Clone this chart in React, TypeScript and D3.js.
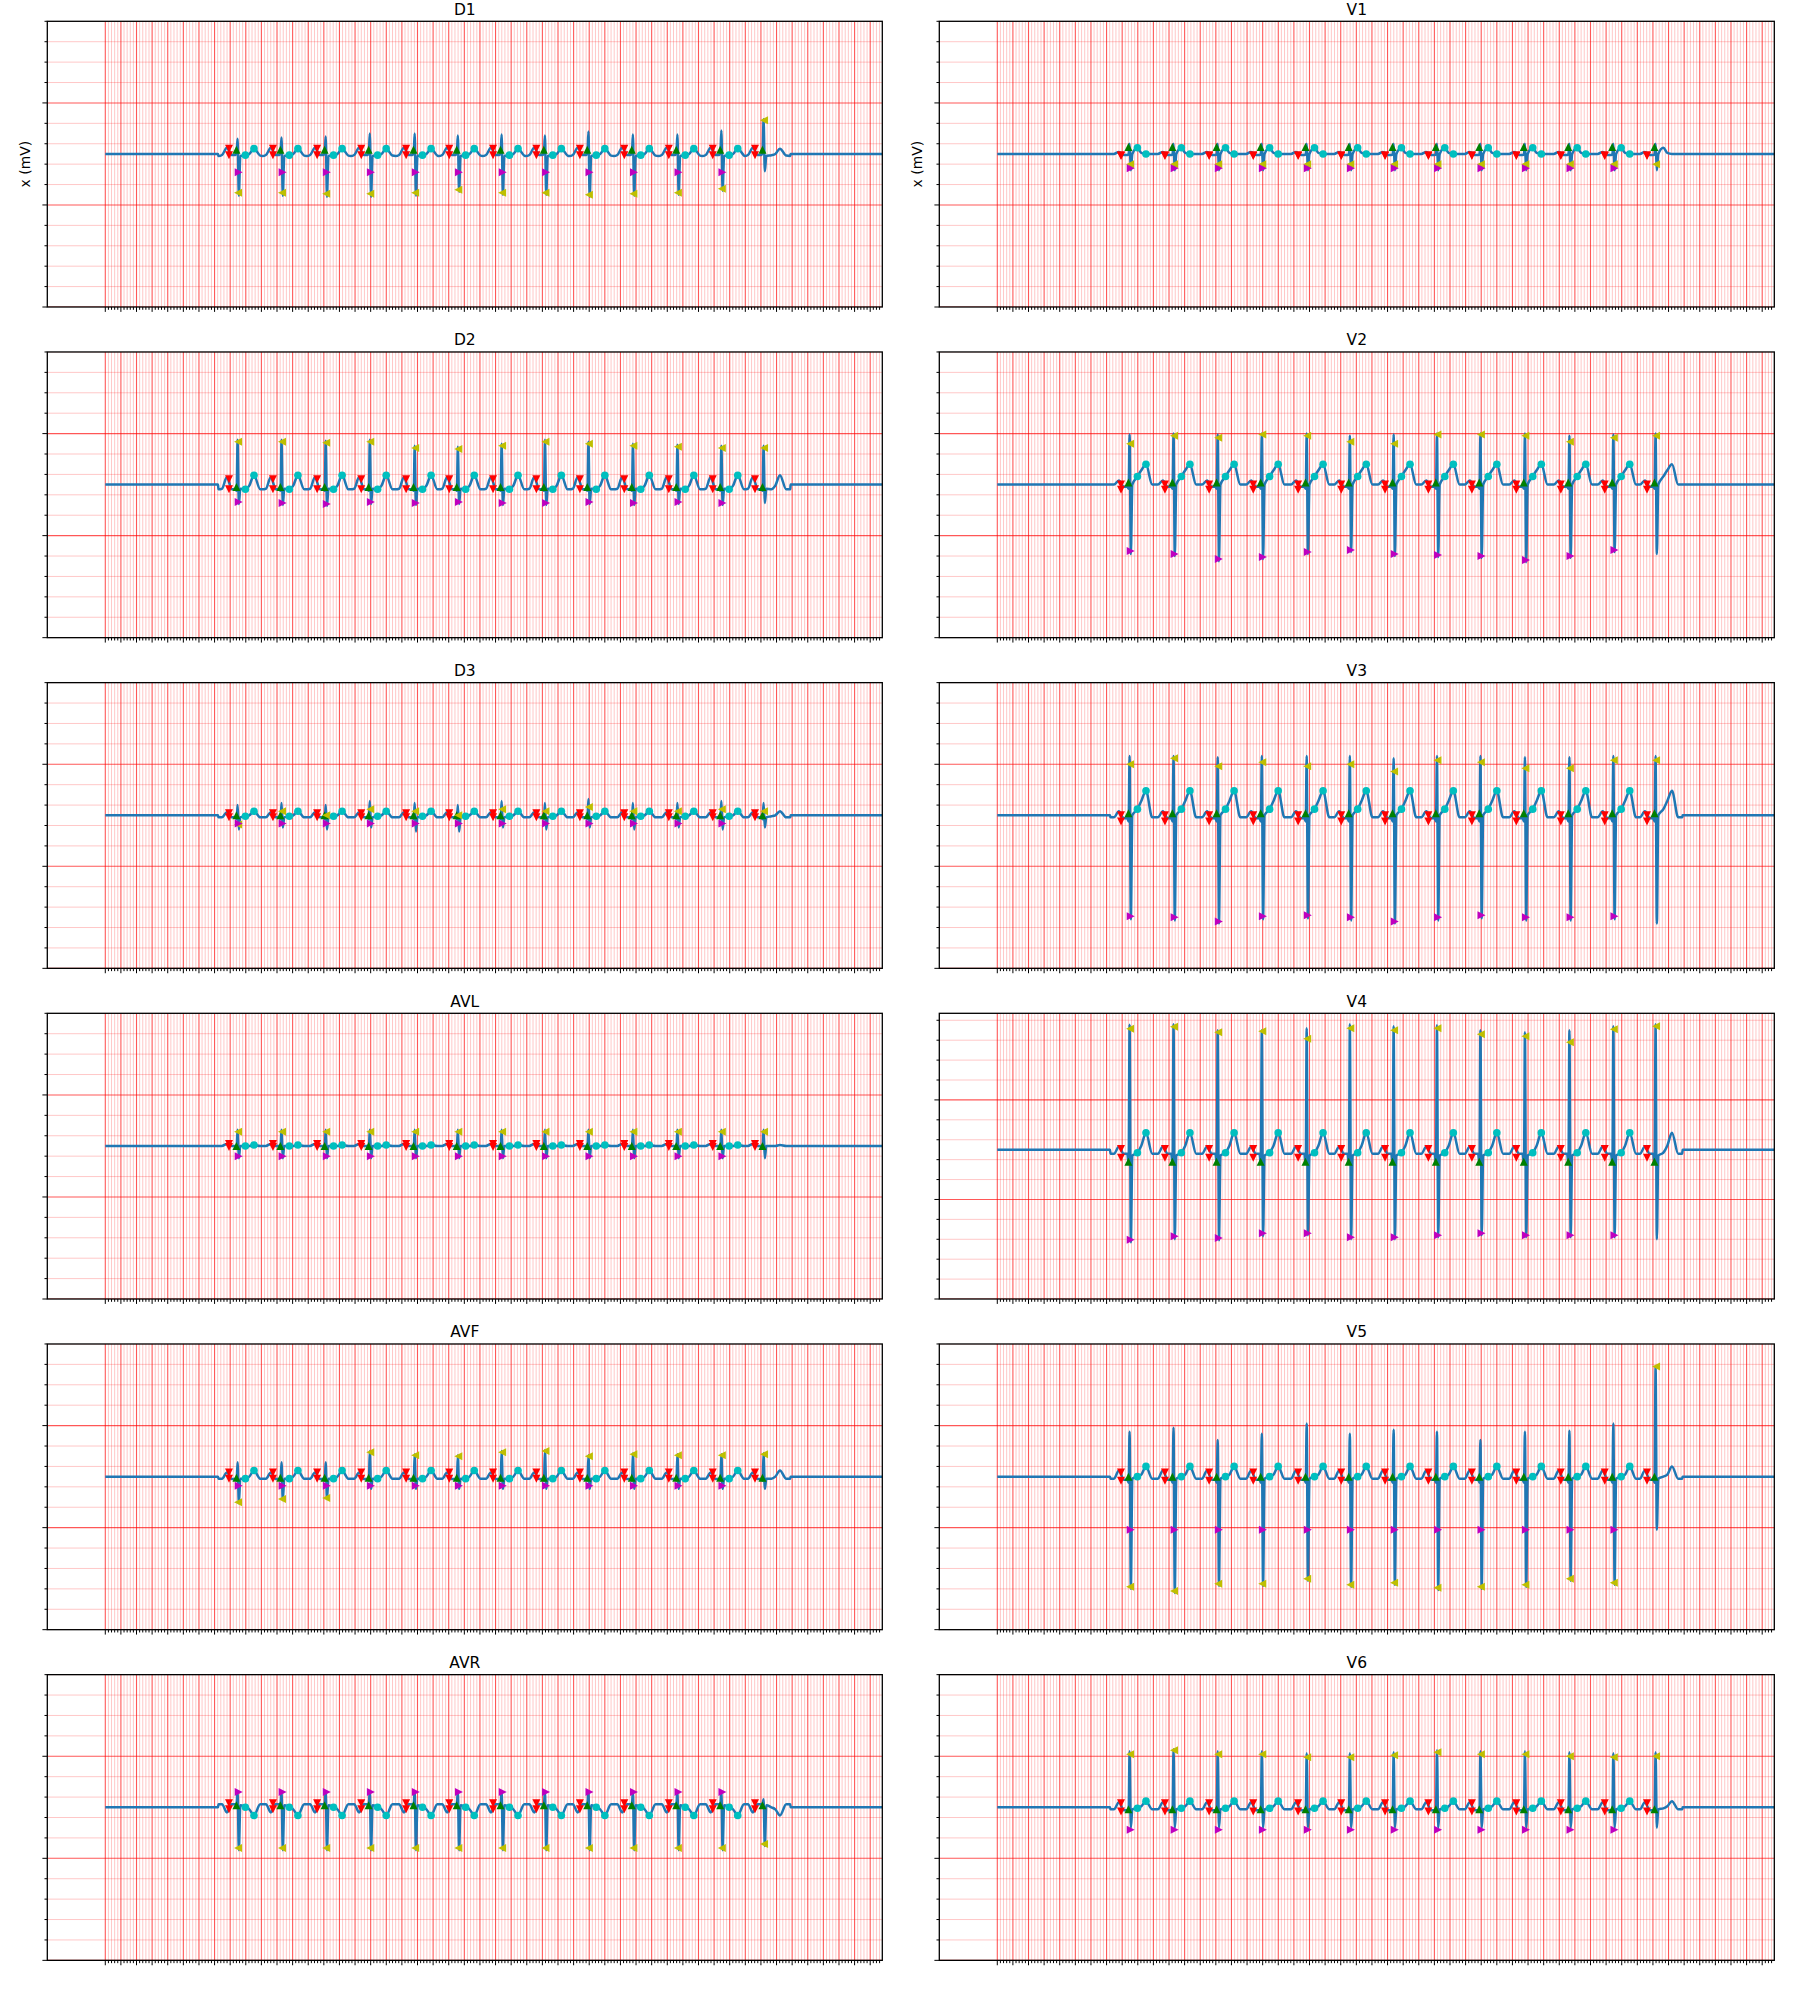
import React from "react";
import * as d3 from "d3";

// ---------- layout ----------
const FIG_W = 1800;
const FIG_H = 2000;
const COL_X = [47.3, 939.3];
const AX_W = 835;
const ROW_Y0 = 21.3;
const ROW_DY = 330.67;
const AX_H = 285.7;

// ---------- axes / grid ----------
const X_LIM: [number, number] = [-0.743, 9.955];
const Y_LIM: [number, number] = [-0.75, 0.65];
const Y_LIM_V4: [number, number] = [-0.75, 0.685];
const X_MINOR_STEP = 0.04; // s
const X_MAJOR_EVERY = 5;
const Y_MINOR_STEP = 0.1; // mV
const Y_MAJOR_EVERY = 5;

const LEADS_LEFT = ["D1", "D2", "D3", "AVL", "AVF", "AVR"];
const LEADS_RIGHT = ["V1", "V2", "V3", "V4", "V5", "V6"];

// ---------- data ----------
const BEAT_T = [1.695, 2.258, 2.824, 3.389, 3.964, 4.517, 5.078, 5.633, 6.19, 6.76, 7.33, 7.893, 8.434];
const SNIP = [1.448, 8.776];
// beat template time offsets (s) relative to R: base, Pstart, P, PR, Qstart, Q, R, S, J, ST, Tstart, T, Tend
const TPL_DT = [-0.245, -0.2, -0.137, -0.075, -0.03, -0.012, 0, 0.016, 0.035, 0.1, 0.15, 0.21, 0.29];
const R_IDX = 6;
const S_IDX = 7;
const ST_IDX = 9;
const T_IDX = 11;
const RED_DT = -0.11;
const GREEN_DT = -0.015;
const YEL_DT = 0.006;
const MAG_DT = 0.014;

const WAVE_D1 = [-0.01, -0.005, 0.03, -0.005, -0.005, 0.01, 0, 0, -0.01, -0.006, 0.0, 0.026, -0.008];
const R_D1 = [0.075, 0.08, 0.085, 0.1, 0.1, 0.09, 0.095, 0.09, 0.11, 0.095, 0.095, 0.115, 0.17];
const S_D1 = [-0.205, -0.205, -0.21, -0.21, -0.205, -0.185, -0.2, -0.2, -0.21, -0.205, -0.2, -0.18, -0.085];
const YEL_D1 = [-0.19, -0.19, -0.195, -0.195, -0.19, -0.175, -0.19, -0.19, -0.2, -0.195, -0.19, -0.17, 0.165];
const MAG_D1 = [-0.09, -0.09, -0.09, -0.09, -0.09, -0.09, -0.09, -0.09, -0.09, -0.09, -0.09, -0.09, null];
const MARK_D1 = [0.026, -0.006, 0.02];

const WAVE_D2 = [-0.023, -0.02, 0.037, -0.023, -0.023, -0.03, 0, 0, -0.02, -0.023, -0.005, 0.046, -0.023];
const R_D2 = [0.22, 0.22, 0.215, 0.22, 0.19, 0.185, 0.2, 0.22, 0.21, 0.2, 0.195, 0.19, 0.19];
const S_D2 = [-0.095, -0.1, -0.105, -0.095, -0.1, -0.095, -0.1, -0.1, -0.095, -0.1, -0.095, -0.1, -0.09];
const YEL_D2 = [0.21, 0.21, 0.205, 0.21, 0.18, 0.175, 0.19, 0.21, 0.2, 0.19, 0.185, 0.18, 0.18];
const MAG_D2 = [-0.085, -0.09, -0.095, -0.085, -0.09, -0.085, -0.09, -0.09, -0.085, -0.09, -0.085, -0.09, null];
const MARK_D2 = [0.026, -0.023, -0.012];

const WAVE_D3 = [-0.01, -0.01, 0.015, -0.01, -0.01, -0.02, 0, 0, -0.01, -0.005, 0.0, 0.02, -0.01];
const R_D3 = [0.05, 0.06, 0.05, 0.07, 0.06, 0.05, 0.07, 0.06, 0.08, 0.06, 0.06, 0.07, 0.06];
const S_D3 = [-0.07, -0.06, -0.07, -0.06, -0.08, -0.08, -0.06, -0.07, -0.06, -0.07, -0.06, -0.07, -0.06];
const YEL_D3 = [-0.045, 0.02, 0.0, 0.03, 0.02, 0.0, 0.03, 0.02, 0.04, 0.02, 0.02, 0.03, 0.02];
const MAG_D3 = [-0.04, -0.04, -0.04, -0.04, -0.04, -0.04, -0.04, -0.04, -0.04, -0.04, -0.04, -0.04, null];
const MARK_D3 = [0.01, -0.01, 0.0];

const WAVE_AVL = [0.0, 0.0, 0.01, 0.0, 0.0, -0.005, 0, 0, 0.0, 0.0, 0.0, 0.005, 0.0];
const R_AVL = [0.08, 0.08, 0.08, 0.08, 0.08, 0.08, 0.08, 0.08, 0.08, 0.08, 0.08, 0.08, 0.08];
const S_AVL = [-0.06, -0.06, -0.06, -0.06, -0.06, -0.06, -0.06, -0.06, -0.06, -0.06, -0.06, -0.06, -0.06];
const YEL_AVL = [0.07, 0.07, 0.07, 0.07, 0.07, 0.07, 0.07, 0.07, 0.07, 0.07, 0.07, 0.07, 0.07];
const MAG_AVL = [-0.05, -0.05, -0.05, -0.05, -0.05, -0.05, -0.05, -0.05, -0.05, -0.05, -0.05, -0.05, null];
const MARK_AVL = [0.01, -0.005, 0.0];

const WAVE_AVF = [-0.01, -0.01, 0.02, -0.012, -0.012, -0.02, 0, 0, -0.01, -0.01, 0.0, 0.03, -0.01];
const R_AVF = [0.07, 0.07, 0.07, 0.125, 0.11, 0.105, 0.125, 0.13, 0.105, 0.115, 0.11, 0.11, 0.115];
const S_AVF = [-0.13, -0.115, -0.11, -0.06, -0.06, -0.06, -0.06, -0.06, -0.06, -0.06, -0.06, -0.06, -0.06];
const YEL_AVF = [-0.125, -0.11, -0.105, 0.12, 0.105, 0.1, 0.12, 0.125, 0.1, 0.11, 0.105, 0.105, 0.11];
const MAG_AVF = [-0.045, -0.045, -0.045, -0.045, -0.045, -0.045, -0.045, -0.045, -0.045, -0.045, -0.045, -0.045, null];
const MARK_AVF = [0.02, -0.01, -0.005];

const WAVE_AVR = [0.015, 0.015, -0.025, 0.015, 0.015, 0.02, 0, 0, 0.01, 0.0, -0.01, -0.04, 0.015];
const R_AVR = [0.08, 0.08, 0.08, 0.08, 0.08, 0.08, 0.08, 0.08, 0.08, 0.08, 0.08, 0.08, 0.04];
const S_AVR = [-0.21, -0.21, -0.21, -0.21, -0.21, -0.21, -0.21, -0.21, -0.21, -0.21, -0.21, -0.21, -0.19];
const YEL_AVR = [-0.2, -0.2, -0.2, -0.2, -0.2, -0.2, -0.2, -0.2, -0.2, -0.2, -0.2, -0.2, -0.18];
const MAG_AVR = [0.075, 0.075, 0.075, 0.075, 0.075, 0.075, 0.075, 0.075, 0.075, 0.075, 0.075, 0.075, null];
const MARK_AVR = [0.02, -0.01, 0.01];

const WAVE_V1 = [0.0, 0.0, 0.01, -0.005, -0.005, 0.0, 0, 0, 0.0, 0.03, 0.005, 0.0, 0.0];
const R_V1 = [0.05, 0.05, 0.05, 0.05, 0.05, 0.05, 0.05, 0.05, 0.05, 0.05, 0.05, 0.05, 0.05];
const S_V1 = [-0.08, -0.08, -0.08, -0.08, -0.08, -0.08, -0.08, -0.08, -0.08, -0.08, -0.08, -0.08, -0.08];
const YEL_V1 = [-0.05, -0.05, -0.05, -0.05, -0.05, -0.05, -0.05, -0.05, -0.05, -0.05, -0.05, -0.05, -0.05];
const MAG_V1 = [-0.07, -0.07, -0.07, -0.07, -0.07, -0.07, -0.07, -0.07, -0.07, -0.07, -0.07, -0.07, null];
const MARK_V1 = [-0.006, -0.01, 0.034];

const WAVE_V2 = [0.0, 0.0, 0.02, -0.01, -0.01, -0.02, 0, 0, 0.0, 0.04, 0.07, 0.1, 0.0];
const R_V2 = [0.245, 0.25, 0.245, 0.25, 0.25, 0.24, 0.245, 0.25, 0.25, 0.25, 0.24, 0.245, 0.25];
const S_V2 = [-0.34, -0.35, -0.375, -0.365, -0.34, -0.33, -0.35, -0.355, -0.36, -0.38, -0.36, -0.33, -0.34];
const YEL_V2 = [0.2, 0.24, 0.23, 0.245, 0.24, 0.21, 0.2, 0.245, 0.245, 0.24, 0.21, 0.23, 0.24];
const MAG_V2 = [-0.325, -0.34, -0.365, -0.355, -0.33, -0.32, -0.34, -0.345, -0.35, -0.37, -0.35, -0.32, null];
const MARK_V2 = [0.0, -0.025, 0.01];

const WAVE_V3 = [-0.01, -0.01, 0.02, -0.015, -0.015, -0.03, 0, 0, 0.0, 0.03, 0.07, 0.12, -0.01];
const R_V3 = [0.29, 0.29, 0.285, 0.29, 0.29, 0.29, 0.28, 0.29, 0.29, 0.285, 0.285, 0.29, 0.29];
const S_V3 = [-0.51, -0.515, -0.53, -0.51, -0.505, -0.515, -0.53, -0.515, -0.505, -0.515, -0.515, -0.51, -0.53];
const YEL_V3 = [0.25, 0.28, 0.24, 0.26, 0.24, 0.25, 0.215, 0.27, 0.26, 0.23, 0.23, 0.27, 0.27];
const MAG_V3 = [-0.495, -0.5, -0.52, -0.495, -0.49, -0.5, -0.52, -0.5, -0.49, -0.5, -0.5, -0.495, null];
const MARK_V3 = [0.0, -0.03, 0.01];

const WAVE_V4 = [-0.02, -0.02, 0.015, -0.02, -0.02, -0.07, 0, 0, -0.03, -0.015, 0.02, 0.085, -0.02];
const R_V4 = [0.628, 0.63, 0.6, 0.6, 0.61, 0.63, 0.62, 0.625, 0.6, 0.59, 0.6, 0.62, 0.63];
const S_V4 = [-0.465, -0.45, -0.455, -0.435, -0.43, -0.45, -0.45, -0.44, -0.43, -0.44, -0.44, -0.44, -0.45];
const YEL_V4 = [0.608, 0.618, 0.59, 0.595, 0.557, 0.61, 0.6, 0.61, 0.58, 0.57, 0.54, 0.605, 0.62];
const MAG_V4 = [-0.452, -0.435, -0.443, -0.42, -0.42, -0.44, -0.44, -0.43, -0.42, -0.43, -0.43, -0.43, null];
const MARK_V4 = [0.003, -0.04, -0.06];

const WAVE_V5 = [-0.01, -0.01, 0.03, -0.015, -0.015, -0.03, 0, 0, -0.01, 0.0, 0.01, 0.05, -0.01];
const R_V5 = [0.22, 0.24, 0.18, 0.21, 0.26, 0.21, 0.23, 0.22, 0.18, 0.22, 0.225, 0.26, 0.54];
const S_V5 = [-0.55, -0.57, -0.535, -0.535, -0.51, -0.54, -0.53, -0.555, -0.55, -0.54, -0.51, -0.53, -0.26];
const YEL_V5 = [-0.54, -0.56, -0.525, -0.525, -0.5, -0.53, -0.52, -0.545, -0.54, -0.53, -0.5, -0.52, 0.54];
const MAG_V5 = [-0.26, -0.26, -0.26, -0.26, -0.26, -0.26, -0.26, -0.26, -0.26, -0.26, -0.26, -0.26, null];
const MARK_V5 = [0.02, -0.02, 0.0];

const WAVE_V6 = [-0.01, -0.01, 0.025, -0.015, -0.015, -0.02, 0, 0, -0.01, -0.005, 0.005, 0.03, -0.01];
const R_V6 = [0.275, 0.285, 0.275, 0.275, 0.265, 0.265, 0.27, 0.28, 0.275, 0.275, 0.27, 0.265, 0.27];
const S_V6 = [-0.1, -0.1, -0.1, -0.1, -0.1, -0.1, -0.1, -0.1, -0.1, -0.1, -0.1, -0.1, -0.1];
const YEL_V6 = [0.26, 0.28, 0.26, 0.26, 0.245, 0.245, 0.255, 0.27, 0.26, 0.26, 0.25, 0.245, 0.25];
const MAG_V6 = [-0.11, -0.11, -0.11, -0.11, -0.11, -0.11, -0.11, -0.11, -0.11, -0.11, -0.11, -0.11, null];
const MARK_V6 = [0.02, -0.02, -0.01];

type LeadData = {
  wave: number[];
  R: number[];
  S: number[];
  yel: (number | null)[];
  mag: (number | null)[];
  mark: number[];
};

const LEAD_TABLE: Record<string, LeadData> = {
  D1: { wave: WAVE_D1, R: R_D1, S: S_D1, yel: YEL_D1, mag: MAG_D1, mark: MARK_D1 },
  D2: { wave: WAVE_D2, R: R_D2, S: S_D2, yel: YEL_D2, mag: MAG_D2, mark: MARK_D2 },
  D3: { wave: WAVE_D3, R: R_D3, S: S_D3, yel: YEL_D3, mag: MAG_D3, mark: MARK_D3 },
  AVL: { wave: WAVE_AVL, R: R_AVL, S: S_AVL, yel: YEL_AVL, mag: MAG_AVL, mark: MARK_AVL },
  AVF: { wave: WAVE_AVF, R: R_AVF, S: S_AVF, yel: YEL_AVF, mag: MAG_AVF, mark: MARK_AVF },
  AVR: { wave: WAVE_AVR, R: R_AVR, S: S_AVR, yel: YEL_AVR, mag: MAG_AVR, mark: MARK_AVR },
  V1: { wave: WAVE_V1, R: R_V1, S: S_V1, yel: YEL_V1, mag: MAG_V1, mark: MARK_V1 },
  V2: { wave: WAVE_V2, R: R_V2, S: S_V2, yel: YEL_V2, mag: MAG_V2, mark: MARK_V2 },
  V3: { wave: WAVE_V3, R: R_V3, S: S_V3, yel: YEL_V3, mag: MAG_V3, mark: MARK_V3 },
  V4: { wave: WAVE_V4, R: R_V4, S: S_V4, yel: YEL_V4, mag: MAG_V4, mark: MARK_V4 },
  V5: { wave: WAVE_V5, R: R_V5, S: S_V5, yel: YEL_V5, mag: MAG_V5, mark: MARK_V5 },
  V6: { wave: WAVE_V6, R: R_V6, S: S_V6, yel: YEL_V6, mag: MAG_V6, mark: MARK_V6 },
};

// ---------- styles ----------
const LINE_COLOR = "#1f77b4";
const C_RED = "#ff0000";
const C_GREEN = "#008000";
const C_YEL = "#bfbf00";
const C_MAG = "#bf00bf";
const C_CYAN = "#00bfbf";
const GRID_MAJOR = "rgba(255,0,0,0.66)";
const GRID_MINOR = "rgba(255,0,0,0.22)";
const FONT = "'DejaVu Sans', sans-serif";
const MS = 4.0; // half marker size

function buildSignal(d: LeadData): [number, number][] {
  const pts: [number, number][] = [
    [0, 0],
    [SNIP[0] - 0.004, 0],
  ];
  BEAT_T.forEach((T, i) => {
    TPL_DT.forEach((dt, k) => {
      const v = k === R_IDX ? d.R[i] : k === S_IDX ? d.S[i] : d.wave[k];
      pts.push([T + dt, v]);
    });
  });
  pts.push([SNIP[1], d.wave[0]]);
  pts.push([SNIP[1] + 0.004, 0]);
  pts.push([X_LIM[1], 0]);
  return pts;
}

const triPath = (dir: string) => {
  const h = MS;
  if (dir === "v") return `M${-h},${-h}L${h},${-h}L0,${h}Z`;
  if (dir === "^") return `M${-h},${h}L${h},${h}L0,${-h}Z`;
  if (dir === "<") return `M${h},${-h}L${h},${h}L${-h},0Z`;
  return `M${-h},${-h}L${-h},${h}L${h},0Z`;
};

function Panel({ name, left, top, showYLabel }: { name: string; left: number; top: number; showYLabel: boolean }) {
  const d = LEAD_TABLE[name];
  const x = d3.scaleLinear().domain(X_LIM).range([0, AX_W]);
  const y = d3.scaleLinear().domain(name === "V4" ? Y_LIM_V4 : Y_LIM).range([AX_H, 0]);
  const nX = Math.floor((X_LIM[1] + 1e-9) / X_MINOR_STEP);
  const xTicks = d3.range(0, nX + 1).map((i) => ({ v: i * X_MINOR_STEP, major: i % X_MAJOR_EVERY === 0 }));
  const yDom = y.domain();
  const nY = Math.floor((yDom[1] - yDom[0] + 1e-9) / Y_MINOR_STEP);
  const yTicks = d3.range(0, nY + 1).map((i) => ({ v: yDom[0] + i * Y_MINOR_STEP, major: i % Y_MAJOR_EVERY === 0 }));
  const sig = buildSignal(d);
  const line = d3
    .line<[number, number]>()
    .x((p) => x(p[0]))
    .y((p) => y(p[1]))
    .curve(d3.curveMonotoneX);
  const clipId = `clip-${name}`;

  const reds: [number, number][] = [];
  const greens: [number, number][] = [];
  const yels: [number, number][] = [];
  const mags: [number, number][] = [];
  const cyans: [number, number][] = [];
  BEAT_T.forEach((T, i) => {
    reds.push([T + RED_DT, d.mark[0]]);
    reds.push([T + RED_DT, d.mark[1]]);
    greens.push([T + GREEN_DT, d.mark[2]]);
    const yv = d.yel[i];
    if (yv !== null) yels.push([T + YEL_DT, yv]);
    const mv = d.mag[i];
    if (mv !== null) mags.push([T + MAG_DT, mv]);
    if (i < BEAT_T.length - 1) {
      cyans.push([T + TPL_DT[ST_IDX], d.wave[ST_IDX]]);
      cyans.push([T + TPL_DT[T_IDX], d.wave[T_IDX]]);
    }
  });

  return (
    <g transform={`translate(${left},${top})`}>
      <defs>
        <clipPath id={clipId}>
          <rect x={0} y={0} width={AX_W} height={AX_H} />
        </clipPath>
      </defs>
      <rect x={0} y={0} width={AX_W} height={AX_H} fill="#ffffff" />
      <g clipPath={`url(#${clipId})`}>
        {yTicks.filter((t) => !t.major).map((t, i) => (
          <line key={`hm${i}`} x1={0} x2={AX_W} y1={y(t.v)} y2={y(t.v)} stroke={GRID_MINOR} strokeWidth={1} />
        ))}
        {xTicks.filter((t) => !t.major).map((t, i) => (
          <line key={`vm${i}`} x1={x(t.v)} x2={x(t.v)} y1={0} y2={AX_H} stroke={GRID_MINOR} strokeWidth={1} />
        ))}
        {yTicks.filter((t) => t.major).map((t, i) => (
          <line key={`hM${i}`} x1={0} x2={AX_W} y1={y(t.v)} y2={y(t.v)} stroke={GRID_MAJOR} strokeWidth={1.1} />
        ))}
        {xTicks.filter((t) => t.major).map((t, i) => (
          <line key={`vM${i}`} x1={x(t.v)} x2={x(t.v)} y1={0} y2={AX_H} stroke={GRID_MAJOR} strokeWidth={1.1} />
        ))}
        <path d={line(sig) || ""} fill="none" stroke={LINE_COLOR} strokeWidth={2.5} strokeLinejoin="round" />
        {reds.map((p, i) => (
          <path key={`r${i}`} d={triPath("v")} transform={`translate(${x(p[0])},${y(p[1])})`} fill={C_RED} />
        ))}
        {greens.map((p, i) => (
          <path key={`g${i}`} d={triPath("^")} transform={`translate(${x(p[0])},${y(p[1])})`} fill={C_GREEN} />
        ))}
        {yels.map((p, i) => (
          <path key={`y${i}`} d={triPath("<")} transform={`translate(${x(p[0])},${y(p[1])})`} fill={C_YEL} />
        ))}
        {mags.map((p, i) => (
          <path key={`m${i}`} d={triPath(">")} transform={`translate(${x(p[0])},${y(p[1])})`} fill={C_MAG} />
        ))}
        {cyans.map((p, i) => (
          <circle key={`c${i}`} cx={x(p[0])} cy={y(p[1])} r={3.8} fill={C_CYAN} />
        ))}
      </g>
      <rect x={0} y={0} width={AX_W} height={AX_H} fill="none" stroke="#000" strokeWidth={1.3} />
      {xTicks.map((t, i) => (
        <line key={`xt${i}`} x1={x(t.v)} x2={x(t.v)} y1={AX_H} y2={AX_H + (t.major ? 4.9 : 2.8)} stroke="#000" strokeWidth={1} />
      ))}
      {yTicks.map((t, i) => (
        <line key={`yt${i}`} x1={0} x2={-(t.major ? 4.9 : 2.8)} y1={y(t.v)} y2={y(t.v)} stroke="#000" strokeWidth={1} />
      ))}
      <text x={AX_W / 2} y={-6.6} textAnchor="middle" fontFamily={FONT} fontSize={15.5} fill="#000">
        {name}
      </text>
      {showYLabel && (
        <text
          transform={`translate(${-22.5},${AX_H / 2}) rotate(-90)`}
          textAnchor="middle"
          dominantBaseline="central"
          fontFamily={FONT}
          fontSize={13.9}
          fill="#000"
        >
          x (mV)
        </text>
      )}
    </g>
  );
}

export default function App() {
  return (
    <svg
      width={FIG_W}
      height={FIG_H}
      style={{ position: "absolute", left: 0, top: 0, display: "block" }}
      xmlns="http://www.w3.org/2000/svg"
    >
      <rect width={FIG_W} height={FIG_H} fill="#ffffff" />
      {LEADS_LEFT.map((name, r) => (
        <Panel key={name} name={name} left={COL_X[0]} top={ROW_Y0 + r * ROW_DY} showYLabel={r === 0} />
      ))}
      {LEADS_RIGHT.map((name, r) => (
        <Panel key={name} name={name} left={COL_X[1]} top={ROW_Y0 + r * ROW_DY} showYLabel={r === 0} />
      ))}
    </svg>
  );
}
